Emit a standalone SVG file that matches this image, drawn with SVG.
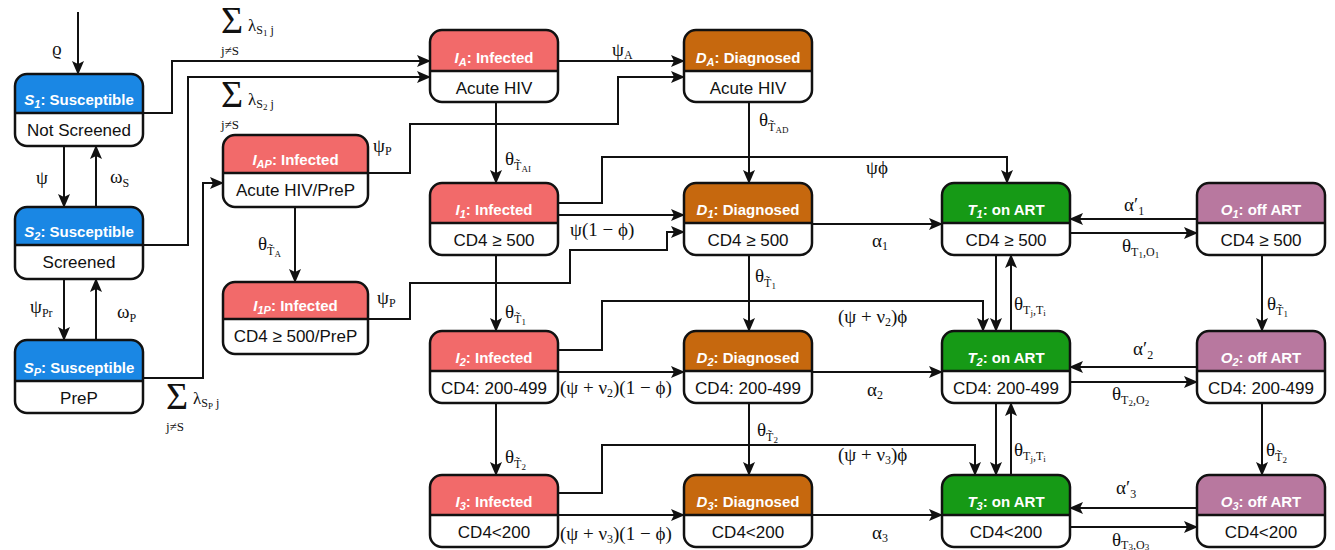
<svg xmlns="http://www.w3.org/2000/svg" width="1335" height="550" viewBox="0 0 1335 550">
<style>
.bg{fill:#fff}
.ol{fill:none;stroke:#111;stroke-width:2.5}
.dv{stroke:#111;stroke-width:2.5}
.cS{fill:#1a87e4}.cI{fill:#f26a6a}.cD{fill:#c6680e}.cT{fill:#169a16}.cO{fill:#b8789f}
.hd{font-family:"Liberation Sans",Arial,sans-serif;font-size:15px;font-weight:bold;fill:#fff;text-anchor:middle}
.it{font-style:italic}
.hs{font-size:11px;font-style:italic}
.bt{font-family:"Liberation Sans",Arial,sans-serif;font-size:17px;fill:#111;text-anchor:middle}
.lb{font-family:"Liberation Serif","Times New Roman",serif;font-size:19px;fill:#111}
.sg{font-size:38px}
.sb{font-size:12px}
.ss{font-size:9px}
.sm{font-size:13px}
.lm{font-size:17px}
.c{fill:none;stroke:#111;stroke-width:2;marker-end:url(#ah)}
</style>
<defs>
<marker id="ah" viewBox="0 0 14 12" refX="13" refY="6" markerWidth="14" markerHeight="12" markerUnits="userSpaceOnUse" orient="auto">
<path d="M0,0 L14,6 L0,12 L3,6 Z" fill="#111"/>
</marker>
</defs>

<g id="connectors">
<path class="c" d="M78,12 V74"/>
<path class="c" d="M64,146 V207"/>
<path class="c" d="M96,207 V146"/>
<path class="c" d="M64,279 V340"/>
<path class="c" d="M96,340 V279"/>
<path class="c" d="M143,113 H172 V61 H430"/>
<path class="c" d="M143,245 H188 V77 H430"/>
<path class="c" d="M143,378 H203 V183 H223"/>
<path class="c" d="M295,207 V282"/>
<path class="c" d="M368,173 H410 V124 H618 V77 H684"/>
<path class="c" d="M368,319 H410 V283 H570 V250 H667 V232 H684"/>
<path class="c" d="M496,102 V183"/>
<path class="c" d="M558,61 H684"/>
<path class="c" d="M749,102 V183"/>
<path class="c" d="M558,203 H602 V157 H1007 V183"/>
<path class="c" d="M558,215 H684"/>
<path class="c" d="M812,224 H942"/>
<path class="c" d="M749,255 V331"/>
<path class="c" d="M496,255 V331"/>
<path class="c" d="M558,350 H602 V301 H983 V331"/>
<path class="c" d="M996,255 V331"/>
<path class="c" d="M1011,331 V255"/>
<path class="c" d="M1197,219 H1070"/>
<path class="c" d="M1070,233 H1197"/>
<path class="c" d="M1262,255 V331"/>
<path class="c" d="M558,372 H684"/>
<path class="c" d="M812,372 H942"/>
<path class="c" d="M749,403 V475"/>
<path class="c" d="M496,403 V475"/>
<path class="c" d="M558,493 H602 V445 H975 V475"/>
<path class="c" d="M996,403 V475"/>
<path class="c" d="M1011,475 V403"/>
<path class="c" d="M1197,367 H1070"/>
<path class="c" d="M1070,382 H1197"/>
<path class="c" d="M1262,403 V475"/>
<path class="c" d="M558,515 H684"/>
<path class="c" d="M812,515 H942"/>
<path class="c" d="M1197,508 H1070"/>
<path class="c" d="M1070,527 H1197"/>
</g>

<g id="labels">
<text class="lb" x="52" y="55">ϱ</text>
<text class="lb" x="36" y="184">ψ</text>
<text class="lb" x="110" y="183">ω<tspan class="sb" dy="4">S</tspan></text>
<text class="lb" x="30" y="313">ψ<tspan class="sb" dy="4">Pr</tspan></text>
<text class="lb" x="117" y="318">ω<tspan class="sb" dy="4">P</tspan></text>
<text class="lb sg" x="221" y="33">Σ</text>
<text class="lb sm" x="221" y="55">j≠S</text>
<text class="lb lm" x="248" y="31">λ<tspan class="sb" dy="3">S</tspan><tspan class="ss" dy="2">1</tspan><tspan class="sb" dy="-2"> j</tspan></text>
<text class="lb sg" x="221" y="107">Σ</text>
<text class="lb sm" x="221" y="129">j≠S</text>
<text class="lb lm" x="248" y="105">λ<tspan class="sb" dy="3">S</tspan><tspan class="ss" dy="2">2</tspan><tspan class="sb" dy="-2"> j</tspan></text>
<text class="lb sg" x="166" y="409">Σ</text>
<text class="lb sm" x="166" y="431">j≠S</text>
<text class="lb lm" x="193" y="404">λ<tspan class="sb" dy="3">S</tspan><tspan class="ss" dy="2">P</tspan><tspan class="sb" dy="-2"> j</tspan></text>
<text class="lb" x="373" y="152">ψ<tspan class="sb" dy="3">P</tspan></text>
<text class="lb" x="377" y="304">ψ<tspan class="sb" dy="3">P</tspan></text>
<text class="lb" x="258" y="250">θ<tspan class="sb" dy="5">T̃</tspan><tspan class="ss" dy="2">A</tspan></text>
<text class="lb" x="612" y="56">ψ<tspan class="sb" dy="3">A</tspan></text>
<text class="lb" x="505" y="165">θ<tspan class="sb" dy="5">T̃</tspan><tspan class="ss" dy="2">AI</tspan></text>
<text class="lb" x="759" y="126">θ<tspan class="sb" dy="5">T̃</tspan><tspan class="ss" dy="2">AD</tspan></text>
<text class="lb" x="866" y="174">ψϕ</text>
<text class="lb" x="570" y="236">ψ(1 − ϕ)</text>
<text class="lb" x="872" y="247">α<tspan class="sb" dy="3">1</tspan></text>
<text class="lb" x="755" y="282">θ<tspan class="sb" dy="5">T̃</tspan><tspan class="ss" dy="2">1</tspan></text>
<text class="lb" x="505" y="318">θ<tspan class="sb" dy="5">T̃</tspan><tspan class="ss" dy="2">1</tspan></text>
<text class="lb" x="838" y="323">(ψ + ν<tspan class="sb" dy="3">2</tspan><tspan dy="-3">)ϕ</tspan></text>
<text class="lb" x="1014" y="310">θ<tspan class="sb" dy="4">T</tspan><tspan class="ss" dy="2">j</tspan><tspan class="sb" dy="-2">,T</tspan><tspan class="ss" dy="2">i</tspan></text>
<text class="lb" x="1124" y="211">α′<tspan class="sb" dy="4">1</tspan></text>
<text class="lb" x="1122" y="252">θ<tspan class="sb" dy="4">T</tspan><tspan class="ss" dy="2">1</tspan><tspan class="sb" dy="-2">,O</tspan><tspan class="ss" dy="2">1</tspan></text>
<text class="lb" x="1267" y="310">θ<tspan class="sb" dy="5">T̃</tspan><tspan class="ss" dy="2">1</tspan></text>
<text class="lb" x="560" y="394">(ψ + ν<tspan class="sb" dy="3">2</tspan><tspan dy="-3">)(1 − ϕ)</tspan></text>
<text class="lb" x="867" y="396">α<tspan class="sb" dy="3">2</tspan></text>
<text class="lb" x="757" y="436">θ<tspan class="sb" dy="5">T̃</tspan><tspan class="ss" dy="2">2</tspan></text>
<text class="lb" x="505" y="463">θ<tspan class="sb" dy="5">T̃</tspan><tspan class="ss" dy="2">2</tspan></text>
<text class="lb" x="838" y="461">(ψ + ν<tspan class="sb" dy="3">3</tspan><tspan dy="-3">)ϕ</tspan></text>
<text class="lb" x="1014" y="456">θ<tspan class="sb" dy="4">T</tspan><tspan class="ss" dy="2">j</tspan><tspan class="sb" dy="-2">,T</tspan><tspan class="ss" dy="2">i</tspan></text>
<text class="lb" x="1133" y="355">α′<tspan class="sb" dy="4">2</tspan></text>
<text class="lb" x="1112" y="400">θ<tspan class="sb" dy="4">T</tspan><tspan class="ss" dy="2">2</tspan><tspan class="sb" dy="-2">,O</tspan><tspan class="ss" dy="2">2</tspan></text>
<text class="lb" x="1266" y="456">θ<tspan class="sb" dy="5">T̃</tspan><tspan class="ss" dy="2">2</tspan></text>
<text class="lb" x="560" y="540">(ψ + ν<tspan class="sb" dy="3">3</tspan><tspan dy="-3">)(1 − ϕ)</tspan></text>
<text class="lb" x="872" y="539">α<tspan class="sb" dy="3">3</tspan></text>
<text class="lb" x="1116" y="494">α′<tspan class="sb" dy="4">3</tspan></text>
<text class="lb" x="1112" y="546">θ<tspan class="sb" dy="3">T</tspan><tspan class="ss" dy="1">3</tspan><tspan class="sb" dy="-1">,O</tspan><tspan class="ss" dy="1">3</tspan></text>
</g>

<g id="S1">
<rect class="bg" x="15" y="74" width="128" height="72" rx="12"/>
<path class="cS" d="M15,113 V86 A12,12 0 0 1 27,74 H131 A12,12 0 0 1 143,86 V113 Z"/>
<line class="dv" x1="15" y1="113" x2="143" y2="113"/>
<rect class="ol" x="15" y="74" width="128" height="72" rx="12"/>
<text class="hd" x="79" y="105"><tspan class="it">S</tspan><tspan class="hs" dy="3">1</tspan><tspan dy="-3">: Susceptible</tspan></text>
<text class="bt" x="79" y="136">Not Screened</text>
</g>
<g id="S2">
<rect class="bg" x="15" y="207" width="128" height="72" rx="12"/>
<path class="cS" d="M15,245 V219 A12,12 0 0 1 27,207 H131 A12,12 0 0 1 143,219 V245 Z"/>
<line class="dv" x1="15" y1="245" x2="143" y2="245"/>
<rect class="ol" x="15" y="207" width="128" height="72" rx="12"/>
<text class="hd" x="79" y="237"><tspan class="it">S</tspan><tspan class="hs" dy="3">2</tspan><tspan dy="-3">: Susceptible</tspan></text>
<text class="bt" x="79" y="268">Screened</text>
</g>
<g id="SP">
<rect class="bg" x="15" y="340" width="128" height="73" rx="12"/>
<path class="cS" d="M15,381 V352 A12,12 0 0 1 27,340 H131 A12,12 0 0 1 143,352 V381 Z"/>
<line class="dv" x1="15" y1="381" x2="143" y2="381"/>
<rect class="ol" x="15" y="340" width="128" height="73" rx="12"/>
<text class="hd" x="79" y="373"><tspan class="it">S</tspan><tspan class="hs" dy="3">P</tspan><tspan dy="-3">: Susceptible</tspan></text>
<text class="bt" x="79" y="404">PreP</text>
</g>
<g id="IAP">
<rect class="bg" x="223" y="135" width="145" height="72" rx="12"/>
<path class="cI" d="M223,173 V147 A12,12 0 0 1 235,135 H356 A12,12 0 0 1 368,147 V173 Z"/>
<line class="dv" x1="223" y1="173" x2="368" y2="173"/>
<rect class="ol" x="223" y="135" width="145" height="72" rx="12"/>
<text class="hd" x="295.5" y="165"><tspan class="it">I</tspan><tspan class="hs" dy="3">AP</tspan><tspan dy="-3">: Infected</tspan></text>
<text class="bt" x="295.5" y="196">Acute HIV/PreP</text>
</g>
<g id="I1P">
<rect class="bg" x="223" y="282" width="145" height="72" rx="12"/>
<path class="cI" d="M223,319 V294 A12,12 0 0 1 235,282 H356 A12,12 0 0 1 368,294 V319 Z"/>
<line class="dv" x1="223" y1="319" x2="368" y2="319"/>
<rect class="ol" x="223" y="282" width="145" height="72" rx="12"/>
<text class="hd" x="295.5" y="311"><tspan class="it">I</tspan><tspan class="hs" dy="3">1P</tspan><tspan dy="-3">: Infected</tspan></text>
<text class="bt" x="295.5" y="342">CD4 ≥ 500/PreP</text>
</g>

<g id="IA">
<rect class="bg" x="430" y="30" width="128" height="72" rx="12"/>
<path class="cI" d="M430,71 V42 A12,12 0 0 1 442,30 H546 A12,12 0 0 1 558,42 V71 Z"/>
<line class="dv" x1="430" y1="71" x2="558" y2="71"/>
<rect class="ol" x="430" y="30" width="128" height="72" rx="12"/>
<text class="hd" x="494" y="63"><tspan class="it">I</tspan><tspan class="hs" dy="3">A</tspan><tspan dy="-3">: Infected</tspan></text>
<text class="bt" x="494" y="94">Acute HIV</text>
</g>
<g id="DA">
<rect class="bg" x="684" y="30" width="128" height="72" rx="12"/>
<path class="cD" d="M684,71 V42 A12,12 0 0 1 696,30 H800 A12,12 0 0 1 812,42 V71 Z"/>
<line class="dv" x1="684" y1="71" x2="812" y2="71"/>
<rect class="ol" x="684" y="30" width="128" height="72" rx="12"/>
<text class="hd" x="748" y="63"><tspan class="it">D</tspan><tspan class="hs" dy="3">A</tspan><tspan dy="-3">: Diagnosed</tspan></text>
<text class="bt" x="748" y="94">Acute HIV</text>
</g>

<g id="I1">
<rect class="bg" x="430" y="183" width="128" height="72" rx="12"/>
<path class="cI" d="M430,223 V195 A12,12 0 0 1 442,183 H546 A12,12 0 0 1 558,195 V223 Z"/>
<line class="dv" x1="430" y1="223" x2="558" y2="223"/>
<rect class="ol" x="430" y="183" width="128" height="72" rx="12"/>
<text class="hd" x="494" y="215"><tspan class="it">I</tspan><tspan class="hs" dy="3">1</tspan><tspan dy="-3">: Infected</tspan></text>
<text class="bt" x="494" y="246">CD4 ≥ 500</text>
</g>
<g id="D1">
<rect class="bg" x="684" y="183" width="128" height="72" rx="12"/>
<path class="cD" d="M684,223 V195 A12,12 0 0 1 696,183 H800 A12,12 0 0 1 812,195 V223 Z"/>
<line class="dv" x1="684" y1="223" x2="812" y2="223"/>
<rect class="ol" x="684" y="183" width="128" height="72" rx="12"/>
<text class="hd" x="748" y="215"><tspan class="it">D</tspan><tspan class="hs" dy="3">1</tspan><tspan dy="-3">: Diagnosed</tspan></text>
<text class="bt" x="748" y="246">CD4 ≥ 500</text>
</g>
<g id="T1">
<rect class="bg" x="942" y="183" width="128" height="72" rx="12"/>
<path class="cT" d="M942,223 V195 A12,12 0 0 1 954,183 H1058 A12,12 0 0 1 1070,195 V223 Z"/>
<line class="dv" x1="942" y1="223" x2="1070" y2="223"/>
<rect class="ol" x="942" y="183" width="128" height="72" rx="12"/>
<text class="hd" x="1006" y="215"><tspan class="it">T</tspan><tspan class="hs" dy="3">1</tspan><tspan dy="-3">: on ART</tspan></text>
<text class="bt" x="1006" y="246">CD4 ≥ 500</text>
</g>
<g id="O1">
<rect class="bg" x="1197" y="183" width="128" height="72" rx="12"/>
<path class="cO" d="M1197,223 V195 A12,12 0 0 1 1209,183 H1313 A12,12 0 0 1 1325,195 V223 Z"/>
<line class="dv" x1="1197" y1="223" x2="1325" y2="223"/>
<rect class="ol" x="1197" y="183" width="128" height="72" rx="12"/>
<text class="hd" x="1261" y="215"><tspan class="it">O</tspan><tspan class="hs" dy="3">1</tspan><tspan dy="-3">: off ART</tspan></text>
<text class="bt" x="1261" y="246">CD4 ≥ 500</text>
</g>

<g id="I2">
<rect class="bg" x="430" y="331" width="128" height="72" rx="12"/>
<path class="cI" d="M430,371 V343 A12,12 0 0 1 442,331 H546 A12,12 0 0 1 558,343 V371 Z"/>
<line class="dv" x1="430" y1="371" x2="558" y2="371"/>
<rect class="ol" x="430" y="331" width="128" height="72" rx="12"/>
<text class="hd" x="494" y="363"><tspan class="it">I</tspan><tspan class="hs" dy="3">2</tspan><tspan dy="-3">: Infected</tspan></text>
<text class="bt" x="494" y="394">CD4: 200-499</text>
</g>
<g id="D2">
<rect class="bg" x="684" y="331" width="128" height="72" rx="12"/>
<path class="cD" d="M684,371 V343 A12,12 0 0 1 696,331 H800 A12,12 0 0 1 812,343 V371 Z"/>
<line class="dv" x1="684" y1="371" x2="812" y2="371"/>
<rect class="ol" x="684" y="331" width="128" height="72" rx="12"/>
<text class="hd" x="748" y="363"><tspan class="it">D</tspan><tspan class="hs" dy="3">2</tspan><tspan dy="-3">: Diagnosed</tspan></text>
<text class="bt" x="748" y="394">CD4: 200-499</text>
</g>
<g id="T2">
<rect class="bg" x="942" y="331" width="128" height="72" rx="12"/>
<path class="cT" d="M942,371 V343 A12,12 0 0 1 954,331 H1058 A12,12 0 0 1 1070,343 V371 Z"/>
<line class="dv" x1="942" y1="371" x2="1070" y2="371"/>
<rect class="ol" x="942" y="331" width="128" height="72" rx="12"/>
<text class="hd" x="1006" y="363"><tspan class="it">T</tspan><tspan class="hs" dy="3">2</tspan><tspan dy="-3">: on ART</tspan></text>
<text class="bt" x="1006" y="394">CD4: 200-499</text>
</g>
<g id="O2">
<rect class="bg" x="1197" y="331" width="128" height="72" rx="12"/>
<path class="cO" d="M1197,371 V343 A12,12 0 0 1 1209,331 H1313 A12,12 0 0 1 1325,343 V371 Z"/>
<line class="dv" x1="1197" y1="371" x2="1325" y2="371"/>
<rect class="ol" x="1197" y="331" width="128" height="72" rx="12"/>
<text class="hd" x="1261" y="363"><tspan class="it">O</tspan><tspan class="hs" dy="3">2</tspan><tspan dy="-3">: off ART</tspan></text>
<text class="bt" x="1261" y="394">CD4: 200-499</text>
</g>

<g id="I3">
<rect class="bg" x="430" y="475" width="128" height="72" rx="12"/>
<path class="cI" d="M430,515 V487 A12,12 0 0 1 442,475 H546 A12,12 0 0 1 558,487 V515 Z"/>
<line class="dv" x1="430" y1="515" x2="558" y2="515"/>
<rect class="ol" x="430" y="475" width="128" height="72" rx="12"/>
<text class="hd" x="494" y="507"><tspan class="it">I</tspan><tspan class="hs" dy="3">3</tspan><tspan dy="-3">: Infected</tspan></text>
<text class="bt" x="494" y="538">CD4&lt;200</text>
</g>
<g id="D3">
<rect class="bg" x="684" y="475" width="128" height="72" rx="12"/>
<path class="cD" d="M684,515 V487 A12,12 0 0 1 696,475 H800 A12,12 0 0 1 812,487 V515 Z"/>
<line class="dv" x1="684" y1="515" x2="812" y2="515"/>
<rect class="ol" x="684" y="475" width="128" height="72" rx="12"/>
<text class="hd" x="748" y="507"><tspan class="it">D</tspan><tspan class="hs" dy="3">3</tspan><tspan dy="-3">: Diagnosed</tspan></text>
<text class="bt" x="748" y="538">CD4&lt;200</text>
</g>
<g id="T3">
<rect class="bg" x="942" y="475" width="128" height="72" rx="12"/>
<path class="cT" d="M942,515 V487 A12,12 0 0 1 954,475 H1058 A12,12 0 0 1 1070,487 V515 Z"/>
<line class="dv" x1="942" y1="515" x2="1070" y2="515"/>
<rect class="ol" x="942" y="475" width="128" height="72" rx="12"/>
<text class="hd" x="1006" y="507"><tspan class="it">T</tspan><tspan class="hs" dy="3">3</tspan><tspan dy="-3">: on ART</tspan></text>
<text class="bt" x="1006" y="538">CD4&lt;200</text>
</g>
<g id="O3">
<rect class="bg" x="1197" y="475" width="128" height="72" rx="12"/>
<path class="cO" d="M1197,515 V487 A12,12 0 0 1 1209,475 H1313 A12,12 0 0 1 1325,487 V515 Z"/>
<line class="dv" x1="1197" y1="515" x2="1325" y2="515"/>
<rect class="ol" x="1197" y="475" width="128" height="72" rx="12"/>
<text class="hd" x="1261" y="507"><tspan class="it">O</tspan><tspan class="hs" dy="3">3</tspan><tspan dy="-3">: off ART</tspan></text>
<text class="bt" x="1261" y="538">CD4&lt;200</text>
</g>
</svg>
